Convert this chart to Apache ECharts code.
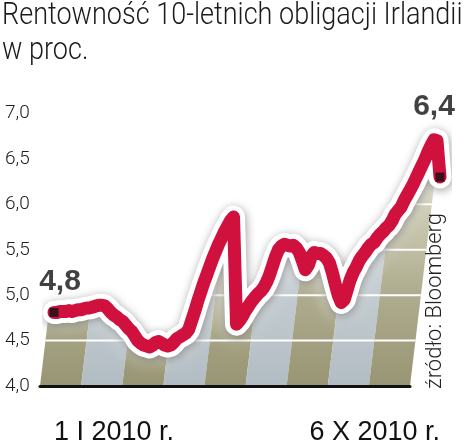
<!DOCTYPE html>
<html><head><meta charset="utf-8">
<script src="https://cdn.jsdelivr.net/npm/echarts@6/dist/echarts.min.js"></script>
<style>html,body{margin:0;padding:0;background:#fff}#c{width:475px;height:448px}</style>
</head><body><div id="c"></div>
<script>
const titleText = 'Rentowność 10-letnich obligacji Irlandii\nw proc.';
const sourceText = 'źródło: Bloomberg';
const xLabels = ['1 I 2010 r.', '6 X 2010 r.'];
const yTicks = [4.0, 4.5, 5.0, 5.5, 6.0, 6.5, 7.0];
const endLabels = ['4,8', '6,4'];
const stripes = ['a','b','a','b','a','b','a','b','a'];
const yields = [
4.81,4.81,4.82,4.82,4.82,4.83,4.82,4.83,4.84,4.84,
4.85,4.86,4.86,4.87,4.88,4.89,4.89,4.88,4.85,4.81,
4.78,4.76,4.73,4.71,4.67,4.63,4.60,4.55,4.50,4.47,
4.45,4.44,4.43,4.45,4.48,4.49,4.47,4.45,4.44,4.45,
4.48,4.52,4.54,4.56,4.58,4.62,4.72,4.82,4.93,5.03,
5.13,5.22,5.31,5.40,5.48,5.56,5.63,5.70,5.76,5.82,
5.86,4.68,4.72,4.77,4.83,4.88,4.93,4.97,5.01,5.04,
5.08,5.14,5.22,5.32,5.42,5.50,5.54,5.56,5.55,5.54,
5.55,5.52,5.47,5.38,5.28,5.33,5.43,5.47,5.46,5.46,
5.44,5.41,5.36,5.25,5.12,5.00,4.92,4.95,5.06,5.17,
5.25,5.31,5.38,5.43,5.47,5.52,5.56,5.58,5.63,5.67,
5.70,5.74,5.77,5.82,5.89,5.93,5.97,6.04,6.10,6.16,
6.22,6.29,6.36,6.43,6.50,6.58,6.65,6.71,6.70,6.30
];

const N = yields.length;
const FONT_L = "Roboto,'Liberation Sans',sans-serif";
const FONT = "'Liberation Sans',Arial,sans-serif";
const SLANT = 0.12;
const stripeColors = {
  a: ['#efeee4','#cfcdb6','#aeac8e','#979573'],
  b: ['#eff2f3','#d6dde1','#c2cbd0','#b2bdc3']
};
function grad(c){
  return new echarts.graphic.LinearGradient(0,0,0,1,[
    {offset:0,color:c[0]},{offset:0.333,color:c[1]},{offset:0.667,color:c[2]},{offset:1,color:c[3]}]);
}
const chart = echarts.init(document.getElementById('c'), null, {renderer:'canvas'});
const lineBase = {type:'line', xAxisIndex:1, yAxisIndex:1, data:yields, showSymbol:false, silent:true, smooth:false};
const option = {
  animation:false,
  grid:[
    {left:40, right:65, top:113.5, bottom:62},
    {left:54, right:35, top:113.5, bottom:62}
  ],
  xAxis:[
    {gridIndex:0, type:'category', data:stripes.map((s,i)=>i), boundaryGap:true, z:10,
     axisLine:{show:true, lineStyle:{color:'#111', width:3}}, axisTick:{show:false}, axisLabel:{show:false}, splitLine:{show:false}},
    {gridIndex:1, type:'category', data:yields.map((v,i)=>i), boundaryGap:false,
     axisLine:{show:false}, axisTick:{show:false}, splitLine:{show:false},
     axisLabel:{show:true, interval:(idx)=>idx===0||idx===N-1, formatter:(val,idx)=>idx===0?xLabels[0]:xLabels[1],
       alignMinLabel:'left', alignMaxLabel:'right', margin:33, fontFamily:FONT, fontSize:27, lineHeight:27, color:'#111'}}
  ],
  yAxis:[
    {gridIndex:0, type:'value', min:yTicks[0], max:yTicks[yTicks.length-1], interval:yTicks[1]-yTicks[0],
     axisLine:{show:false}, axisTick:{show:false}, splitLine:{show:false},
     axisLabel:{align:'left', margin:35, fontFamily:FONT_L, fontWeight:300, fontSize:19, color:'#222', formatter:v=>v.toFixed(1).replace('.',',')}},
    {gridIndex:1, type:'value', min:yTicks[0], max:yTicks[yTicks.length-1], show:false}
  ],
  graphic:[
    {type:'text', x:2, y:-1, scaleX:0.872, z:10,
     style:{text:titleText, fontFamily:FONT_L, fontWeight:300, fontSize:31, lineHeight:35, fill:'#1b1b1b', align:'left', verticalAlign:'top'}},
    {type:'text', x:435, y:301, rotation:Math.PI/2, z:10,
     style:{text:sourceText, fontFamily:FONT_L, fontWeight:300, fontSize:22, fill:'#222', align:'center', verticalAlign:'middle'}}
  ],
  series:[
    {type:'custom', xAxisIndex:0, yAxisIndex:0, z:1, silent:true, clip:false, data:stripes.map((s,i)=>[i]),
     renderItem:(params, api)=>{
       const i = api.value(0);
       const w = api.size([1,0])[0];
       const pb = api.coord([i, yTicks[0]]);
       const yt = api.coord([i, yTicks[yTicks.length-1]])[1];
       const xl = pb[0]-w/2, xr = pb[0]+w/2, yb = pb[1];
       const dx = (yb-yt)*SLANT;
       const children = [{type:'polygon', shape:{points:[[xl,yb],[xr,yb],[xr+dx,yt],[xl+dx,yt]]}, style:{fill:grad(stripeColors[stripes[i]])}}];
       yTicks.slice(1,-1).forEach(t=>{
         const y = api.coord([i,t])[1];
         const d = (yb-y)*SLANT;
         children.push({type:'line', shape:{x1:xl+d, y1:y, x2:xr+d, y2:y}, style:{stroke:'#fff', lineWidth:2}});
       });
       return {type:'group', children};
     }},
    {type:'custom', xAxisIndex:1, yAxisIndex:1, z:2, silent:true, clip:false, data:[[0]],
     renderItem:(params, api)=>{
       const cs = params.coordSys;
       const pts = yields.map((v,i)=>api.coord([i,v]));
       const f = pts[0], l = pts[pts.length-1];
       const top = cs.y - 2;
       const poly = [[f[0]-16, f[1]]].concat(pts, [[l[0]+10, l[1]], [l[0]+10, top], [f[0]-16, top]]);
       return {type:'polygon', shape:{points:poly}, style:{fill:'#fff'}};
     }},
    Object.assign({}, lineBase, {z:3, lineStyle:{color:'#fff', width:22, cap:'round', join:'round', shadowColor:'rgba(255,255,255,1)', shadowBlur:18}}),
    Object.assign({}, lineBase, {z:4, lineStyle:{color:'#fff', width:23, cap:'round', join:'round', shadowColor:'rgba(0,0,0,0.38)', shadowBlur:10, shadowOffsetX:1, shadowOffsetY:2}}),
    Object.assign({}, lineBase, {z:5, lineStyle:{color:'#d0103d', width:13, cap:'round', join:'round'}}),
    {type:'scatter', xAxisIndex:1, yAxisIndex:1, z:6, silent:true, symbol:'rect', symbolSize:9,
     itemStyle:{color:'#111'},
     data:[
       {value:[0, yields[0]], label:{offset:[6,-31]}},
       {value:[N-1, yields[N-1]], label:{offset:[-6,-70]}}
     ],
     label:{show:true, position:'inside', formatter:(p)=>endLabels[p.dataIndex], fontFamily:FONT, fontWeight:'bold', fontSize:30, color:'#111'}}
  ]
};
chart.setOption(option);
</script></body></html>
